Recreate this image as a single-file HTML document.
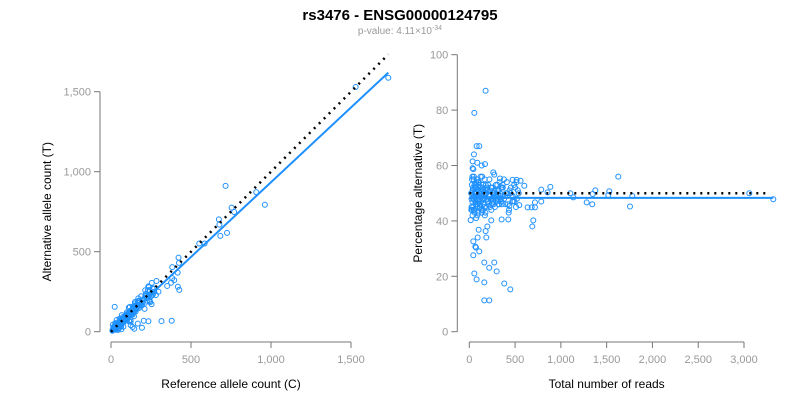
<!DOCTYPE html>
<html><head><meta charset="utf-8"><style>
body{margin:0;background:#fff;}
svg{display:block;font-family:"Liberation Sans",sans-serif;}
.tk{fill:#999;font-size:11px;}
.at{fill:#000;font-size:12px;}
</style></head><body>
<svg id="chart" width="800" height="400" viewBox="0 0 800 400">
<text x="400" y="20" text-anchor="middle" font-weight="bold" font-size="15">rs3476 - ENSG00000124795</text>
<text x="400" y="34" text-anchor="middle" font-size="10" fill="#999">p-value: 4.11×10<tspan dy="-4" font-size="7">-34</tspan></text>
<g id="left"></g>
<g id="right"></g>
</svg>
<script>
// observations: total reads and percent alternative
const totals = [178,55,80,109,51,36,87,171,135,36,44,1627,262,273,335,379,473,517,560,601,885,786,1376,1529,1103,3058,1347,1518,1780,1136,3320,855,1282,1343,1755,786,717,681,717,637,437,546,699,688,353,426,240,197,178,186,91,102,44,66,73,109,44,164,273,218,299,55,80,164,382,448,164,218,29,15,
20,25,30,35,40,45,50,55,60,65,70,75,80,85,90,95,100,105,110,115,120,125,130,140,150,160,170,180,190,200,210,220,230,240,250,260,270,280,290,300,310,320,330,340,350,360,380,400,420,440,460,480,500,520,540,
22,28,33,38,42,48,52,58,62,68,72,78,84,88,94,98,104,112,118,124,132,138,146,154,162,168,176,186,196,206,216,226,236,246,256,266,276,286,296,306,316,326,336,346,356,366,390,410,430,450,470,490,510,530,
24,34,46,56,66,76,86,96,106,116,126,136,148,158,172,184,194,204,214,224,234,248,264,284,304,324,344,364,394,414,434,454,474,494,514,
27,37,47,57,67,77,92,102,122,142,152,166,182,202,222,242,258,278,298,318,338,358,378,398,418,438,458,478,498,518,538];
const pcts = [87,79,67,67,64,61.5,61,60.5,60,59,58.7,56,57.5,56.7,55.3,55,54.8,54.8,54.5,52.7,52.3,51.3,51,50.7,50,50,49.7,49.3,49,48.5,47.8,50.3,46.7,46,45.2,47,46.7,44.9,44.9,44.9,45.4,45.7,40.2,38,40.5,40.5,40.2,38,36.3,34,34,36.8,32.6,30.7,30.4,29,27.6,25,25,23.1,21.8,21,18.9,17.8,17.4,15.3,11.3,11.3,44,40.3,
50,45,55,42,52,48,56,44,50,47,53,41,49,55,46,51,43,54,48,50,45,52,47,56,44,50,42,53,48,51,46,55,49,44,52,47,50,45,53,48,51,46,54,49,47,52,48,50,46,51,49,47,52,48,50,
44,53,47,51,45,55,49,43,52,46,50,54,48,42,51,47,53,45,50,56,44,49,52,46,48,55,43,51,47,53,49,45,52,48,50,46,51,49,47,53,48,46,50,52,
46,52,49,54,43,50,47,53,45,51,48,56,44,50,47,52,45,54,49,46,51,43,53,48,50,45,52,47,49,51,48,46,50,49,48,
51,48,53,46,50,44,52,49,47,54,45,51,48,53,46,50,49,47,52,48,51,45,50,47,49,52,48,50,47,49,48];
const fitPct = [48.3];   // regression: percent alternative
const nullPct = [50];    // expected ratio
const xTicksL = [0,500,1000,1500], xLabelsL = ["0","500","1,000","1,500"];
const yTicksL = [0,500,1000,1500], yLabelsL = ["0","500","1,000","1,500"];
const xTicksR = [0,500,1000,1500,2000,2500,3000], xLabelsR = ["0","500","1,000","1,500","2,000","2,500","3,000"];
const yTicksR = [0,20,40,60,80,100], yLabelsR = ["0","20","40","60","80","100"];

const NS="http://www.w3.org/2000/svg";
function mk(p,t,a){const e=document.createElementNS(NS,t);for(const k in a)e.setAttribute(k,a[k]);p.appendChild(e);return e;}
const xL=v=>111+v*0.16, yL=v=>331.7-v*0.16;
const xR=v=>469.3+v*274.7/3000, yR=v=>331.7-v*2.77;
const BLUE="#1e90ff";

function axes(g,xs,xl,ys,yl,xf,yf,yax,x0,x1,y0,y1,xt,yt,ytx){
  const ax=mk(g,'g',{});
  
  
  mk(ax,'line',{x1:yax,x2:yax,y1:yf(y0),y2:yf(y1),stroke:'#777'});
  ys.forEach((v,i)=>{mk(ax,'line',{x1:yax,x2:yax-6,y1:yf(v),y2:yf(v),stroke:'#777'});
    const t=mk(ax,'text',{x:yax-9,y:yf(v)+4,'text-anchor':'end',class:'tk'});t.textContent=yl[i];
    
    });
  mk(ax,'line',{x1:xf(x0),x2:xf(x1),y1:342,y2:342,stroke:'#777'});
  xs.forEach((v,i)=>{mk(ax,'line',{x1:xf(v),x2:xf(v),y1:342,y2:348,stroke:'#777'});
    const t=mk(ax,'text',{x:xf(v),y:363,'text-anchor':'middle',class:'tk'});t.textContent=xl[i];
    
    });
  const a=mk(ax,'text',{x:(xf(x0)+xf(x1))/2,y:388,'text-anchor':'middle',class:'at'});a.textContent=xt;
  
  
  const cy=(yf(y0)+yf(y1))/2;
  const b=mk(ax,'text',{x:ytx,y:cy,'text-anchor':'middle',class:'at',transform:`rotate(-90 ${ytx} ${cy})`});b.textContent=yt;
  
  
}
const L=document.getElementById('left'), R=document.getElementById('right');
axes(L,xTicksL,xLabelsL,yTicksL,yLabelsL,xL,yL,100,0,1500,0,1500,"Reference allele count (C)","Alternative allele count (T)",51);
axes(R,xTicksR,xLabelsR,yTicksR,yLabelsR,xR,yR,457.3,0,3000,0,100,"Total number of reads","Percentage alternative (T)",422);

const N=Math.min(totals.length,pcts.length);
let maxT=0,maxRef=0;
for(let i=0;i<N;i++){
  const t=totals[i], p=pcts[i];
  if(!isFinite(t)||!isFinite(p)) continue;
  const alt=t*p/100, ref=t-alt;
  maxT=Math.max(maxT,t); maxRef=Math.max(maxRef,ref);
  const c1=mk(L,'circle',{cx:xL(ref),cy:yL(alt),r:2.5,fill:'none',stroke:BLUE,'stroke-width':1});
  
  
  const c2=mk(R,'circle',{cx:xR(t),cy:yR(p),r:2.5,fill:'none',stroke:BLUE,'stroke-width':1});
  
  
}
const r=fitPct[0]/100, slope=r/(1-r);
const nslope=nullPct[0]/(100-nullPct[0]);
const f1=mk(L,'line',{x1:xL(0),y1:yL(0),x2:xL(maxRef),y2:yL(maxRef*slope),stroke:BLUE,'stroke-width':2});


const n1=mk(L,'line',{x1:xL(0),y1:yL(0),x2:xL(maxRef),y2:yL(maxRef*nslope),stroke:'#000','stroke-width':2.5,'stroke-dasharray':'2 5'});


const f2=mk(R,'line',{x1:xR(0),y1:yR(fitPct[0]),x2:xR(maxT),y2:yR(fitPct[0]),stroke:BLUE,'stroke-width':2});


const n2=mk(R,'line',{x1:xR(0),y1:yR(nullPct[0]),x2:xR(maxT*0.98),y2:yR(nullPct[0]),stroke:'#000','stroke-width':2.5,'stroke-dasharray':'2 5'});


</script>
</body></html>
